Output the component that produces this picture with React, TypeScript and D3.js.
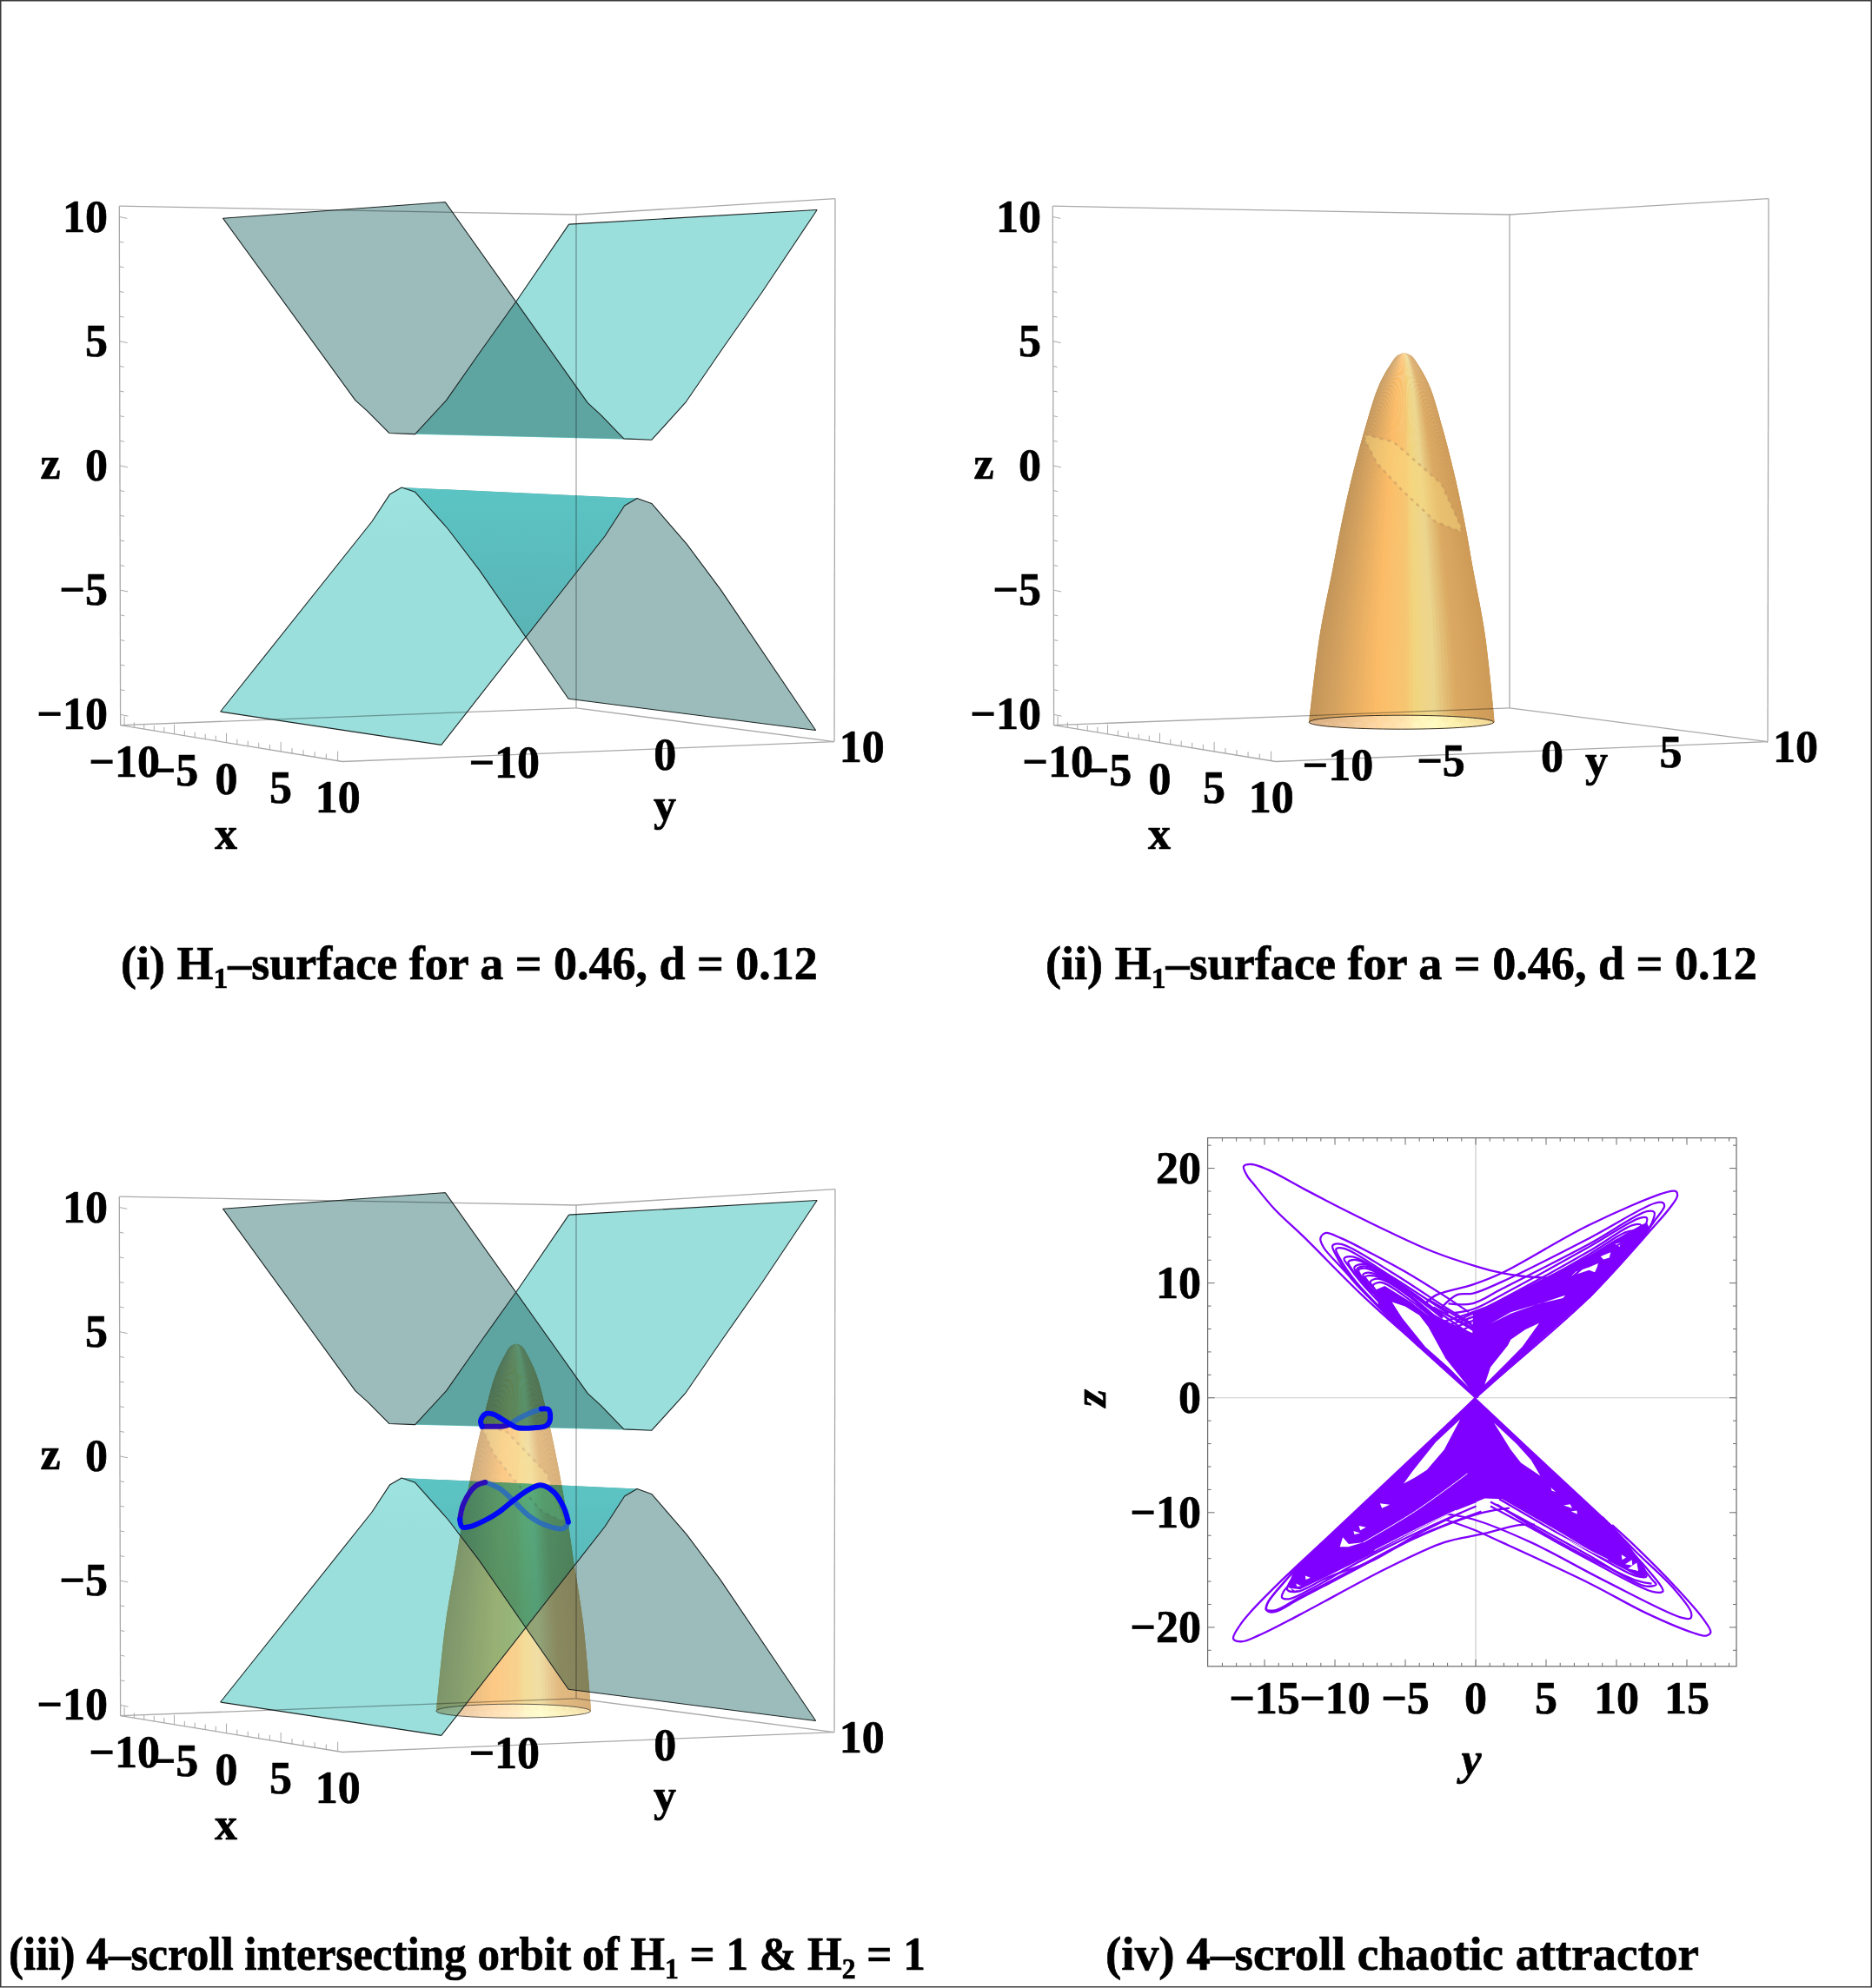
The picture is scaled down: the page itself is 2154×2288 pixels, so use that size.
import React, { useLayoutEffect, useRef, useState } from "react";
import * as d3 from "d3";

// ---- 3D surfaces: z as a function of y, swept along x
const sweepX = [-10, 10];
const upperY = [-10, -2.5, -1.8, -0.55, 0.95, 2.75, 4.75, 6.9, 10];
const upperZ = [10, 2.6, 2.15, 1.25, 1.2, 2.6, 4.65, 6.8, 10];
const lowerY = [-10, -1.5, -0.47, 0.2, 0.98, 2.9, 4.76, 10];
const lowerZ = [-10, -2.4, -1.27, -1.0, -1.2, -2.75, -4.5, -10];

// second surface, radius against height
const coneZ = [4.52, 4.4, 4.1, 3.24, 1.53, -0.52, -2.45, -4.05, -6.55, -10];
const coneR = [0, 0.33, 0.6, 1.16, 1.8, 2.43, 2.92, 3.27, 3.83, 4.3];
const coneShadeU = [-1, -0.73, -0.27, 0.05, 0.14, 0.35, 0.6, 0.97];
const coneShade = ["#c2955a", "#d5a25f", "#fcbc67", "#f7c672", "#f2d47e", "#ecd68e", "#dba962", "#cf9c59"];
const coneBaseShade = ["#dcb184", "#e6bb8c", "#ffd6a0", "#ffe6b0", "#fff4ba", "#fffbc0", "#fbeeaa", "#f4d998"];
// scar on the second surface, (position across the silhouette, z)
const scarU = [-0.97, -0.24, 0.38, 0.72, 0.94, 0.92, 0.53, -0.03, -0.55, -0.92];
const scarZ = [1.31, 1.02, 0.05, -0.63, -2.34, -2.51, -2.11, -0.86, 0.17, 1.08];

// ---- orbit in panel iii, [y, z]
const orbitUpperFront = [[-1.86, 1.25], [-1.94, 1.47], [-1.69, 1.74], [-1.28, 1.74], [-0.79, 1.55], [-0.3, 1.33], [0.11, 1.19], [1.1, 1.19], [1.68, 1.25], [1.92, 1.47], [1.84, 1.9], [1.43, 1.93]];
const orbitUpperBack = [[1.43, 1.93], [0.77, 1.76], [0.11, 1.53], [-0.3, 1.33]];
const orbitUpperDark = [[-0.3, 1.33], [-0.71, 1.25], [-1.36, 1.25], [-1.86, 1.25]];
const orbitLowerFront = [[-3.04, -2.4], [-2.92, -2.69], [-2.51, -2.69], [-1.69, -2.46], [-0.87, -2.12], [-0.05, -1.66], [0.77, -1.26], [1.43, -1.09], [2.17, -1.37], [2.74, -2.0], [2.99, -2.57]];
const orbitLowerBack = [[2.99, -2.57], [2.74, -2.82], [1.76, -2.69], [0.77, -2.29], [-0.05, -1.72], [-0.87, -1.2], [-1.66, -0.95]];
const orbitLowerDark = [[-1.66, -0.95], [-2.18, -1.09], [-2.84, -1.77], [-3.04, -2.4]];

// ---- attractor, panel iv, [y, z]
const wingUL = [[0, 0], [-4, 4.44], [-6.9, 7.9], [-7.04, 9.44], [-6.46, 9.74], [-4.61, 8.35], [-3.17, 6.96], [-2.14, 6.71], [0.12, 5.45], [0.2, 0]];
const holesUL = [
  [[-5.95, 8.35], [-5.02, 7.97], [-4, 7.2], [-3.38, 6.2], [-2.14, 3.43], [-0.5, 0.9], [-1.94, 2.67], [-3.58, 4.44], [-5.23, 6.96]],
];
const wingUR = [[0, 0], [1.87, 2.04], [8.04, 8.73], [12.37, 14.66], [12.16, 15.3], [11.75, 15.04], [10.62, 14.3], [8.05, 12.4], [3.93, 9.87], [1.87, 8.6], [-0.19, 7.34], [-0.3, 3]];
const holesUR = [
  [[0.64, 1.16], [1.05, 2.67], [2.28, 4.56], [2.49, 5.07], [3.52, 5.95], [4.51, 6.51], [3.31, 4.44], [2.08, 2.92]],
  [[1.05, 6.46], [2.49, 7.34], [4.55, 8.23], [6.2, 8.68], [6.36, 8.93], [4.96, 8.36], [2.49, 7.46]],
  [[7.12, 11.0], [8.05, 11.38], [8.7, 11.71], [8.62, 11.38], [8.46, 10.95], [8.05, 11.13], [6.81, 10.62]],
  [[8.87, 12.32], [9.59, 12.69], [9.49, 12.21], [9.08, 12.06]],
  [[9.9, 13.4], [10.31, 13.53], [10.21, 13.15]],
];
const wingLL = [[0, 0], [-10.47, -12.1], [-12.11, -13.99], [-13.04, -15.38], [-13.31, -16.52], [-12.73, -16.85], [-10.47, -15.51], [-7.18, -13.49], [-4.29, -11.6], [-1.41, -9.83], [0.03, -9.12], [0.5, -5]];
const holesLL = [
  [[-1.1, -1.87], [-2.24, -4.52], [-3.47, -6.29], [-4.29, -6.92], [-5.12, -7.48], [-4.5, -6.42], [-2.85, -3.89]],
  [[-6.8, -9.2], [-6.1, -9.32], [-6.66, -9.62]],
  [[-8.3, -11.14], [-7.79, -11.29], [-8.2, -11.54]],
  [[-8.68, -11.6], [-8.2, -11.8], [-8.62, -11.9]],
  [[-9.44, -12.15], [-9.03, -12.73], [-8, -12.6], [-9.03, -12.98], [-9.65, -12.98]],
  [[-13.14, -16.6], [-12.42, -16.7], [-13.04, -16.85]],
  [[-12.77, -16.19], [-12.4, -16.39], [-12.69, -16.44]],
  [[-12.11, -15.51], [-11.74, -15.68], [-12.07, -15.84]],
];
const wingLR = [[0, 0], [3.93, -4.52], [9.69, -11.09], [11.03, -13.11], [11.96, -14.88], [12.1, -15.43], [11.96, -15.69], [11.34, -15.43], [9.08, -14], [5.99, -11.72], [1.87, -8.82], [0.64, -8.77], [-0.19, -9.2], [-0.5, -5]];
const holesLR = [
  [[1.3, -2.18], [2.49, -4.52], [3.21, -5.66], [4.59, -6.8], [3.93, -5.41], [2.9, -4.02]],
  [[5.33, -7.81], [5.68, -8.19], [5.41, -8.11]],
  [[6.24, -9.37], [6.71, -9.27], [6.85, -9.62]],
  [[6.77, -9.9], [7.18, -9.83], [7.22, -10.13]],
  [[10.35, -13.66], [10.68, -13.92], [10.41, -14.12]],
  [[11.09, -14.12], [11.13, -14.62], [10.62, -14.5]],
  [[11.44, -14.37], [11.55, -15.08], [10.82, -14.88]],
];
const orbitLoops = [
  // big excursion, top left across to the right wing
  [[0, 0], [-4, 4.44], [-8.1, 8.98], [-12.22, 14.03], [-14.28, 16.43], [-15.82, 18.7], [-16.23, 19.34], [-16.48, 20.17], [-15.93, 20.35], [-14.8, 19.9], [-12.2, 18.2], [-9.14, 16.26], [-6.05, 14.4], [-2.96, 12.7], [0.12, 11.43], [1.87, 10.88], [3.31, 10.6], [6, 10.4]],
  // upper left nested loops
  [[-4, 4.44], [-6.9, 7.9], [-9.5, 11.3], [-10.8, 13.1], [-11.03, 13.9], [-10.68, 14.36], [-9.55, 13.9], [-8.1, 13.03], [-5.02, 11.0], [-2.35, 8.98], [-0.5, 7.47]],
  [[-6.88, 7.97], [-8.73, 10.24], [-9.96, 12.52], [-10.17, 13.27], [-9.55, 13.4], [-6.05, 11.0], [-1.94, 7.72], [-0.29, 6.46]],
  [[-6.88, 7.97], [-8.52, 10.12], [-9.65, 12.14], [-9.92, 12.97], [-9.35, 13.02], [-6.05, 10.62], [-1.94, 7.34]],
  [[-6.26, 7.6], [-8.1, 10.0], [-9.04, 11.5], [-9.35, 12.14], [-8.73, 12.3], [-5.64, 10.12], [-2.35, 7.22], [-0.29, 5.45]],
  [[-5.85, 7.2], [-7.29, 9.23], [-8.32, 10.62], [-8.62, 11.38], [-7.9, 11.63], [-5.23, 9.74], [-2.35, 6.96]],
  [[-5.85, 7.2], [-7.08, 8.98], [-8.0, 10.37], [-8.32, 11.13], [-7.7, 11.26], [-5.02, 9.24], [-2.55, 6.71]],
  [[-6.2, 8], [-6.88, 8.73], [-7.7, 10.0], [-8.0, 10.75], [-7.39, 10.88], [-4.82, 8.98], [-2.55, 6.46]],
  [[-6.57, 8.48], [-7.18, 9.49], [-7.49, 10.12], [-6.88, 10.37], [-4.61, 8.73], [-2.96, 6.71]],
  [[-6.4, 8.3], [-7.1, 9.3], [-7.3, 9.8], [-6.7, 10.05], [-4.7, 8.55], [-3, 6.9]],
  [[-6.6, 8.6], [-7.75, 10.3], [-7.85, 10.55], [-7.2, 10.62], [-4.7, 8.85], [-2.7, 6.6]],
  [[-6.9, 8.6], [-8.2, 10.6], [-8.45, 11.2], [-7.8, 11.45], [-5.1, 9.48], [-2.4, 7]],
  [[-7.3, 9.1], [-8.8, 11.2], [-9.05, 11.85], [-8.4, 12], [-5.4, 9.9], [-2.3, 7.1]],
  // upper right nested loops
  [[0, 0], [1.87, 2.04], [8.04, 8.73], [12.57, 14.8], [13.8, 16.56], [14.32, 17.57], [14.22, 18.0], [13.5, 17.9], [8.04, 15.05], [1.87, 10.88], [-0.19, 9.87], [-2.76, 8.98], [-3.6, 8.2]],
  [[8.04, 8.73], [11.6, 13.6], [12.78, 15.55], [13.4, 16.68], [13.3, 17.0], [12.68, 16.94], [8.05, 13.9], [1.87, 10.12], [-0.19, 9.1], [-1.32, 8.98], [-2.4, 7.9]],
  [[8.04, 8.73], [11.6, 13.6], [12.5, 15.2], [12.68, 16.18], [12.16, 16.25], [8.05, 13.4], [1.87, 9.5], [-0.19, 8.23], [-1.94, 8.2]],
  [[8.04, 8.73], [11.4, 13.6], [12.16, 15.67], [11.65, 15.67], [8.05, 13.15], [1.87, 8.98], [-0.19, 7.72], [-1.5, 7.4]],
  [[8.04, 8.73], [11.2, 13.6], [11.75, 15.04], [11.14, 15.04], [8.05, 12.77], [1.87, 8.6], [-0.19, 7.34], [-1.4, 6.7]],
  [[8.04, 8.73], [11, 13.4], [11.24, 14.54], [10.62, 14.41], [8.05, 12.5], [1.87, 8.2]],
  [[8.04, 8.73], [10.6, 13.2], [10.72, 13.9], [10.1, 13.8], [8.05, 12.2], [3.9, 9.5]],
  [[1.3, 7.3], [3.9, 8.5], [6.2, 9.9], [8.05, 11.75], [10.5, 13.6]],
  // crossings near the middle of the upper half
  [[-3.4, 8.6], [-1.5, 7.2], [0.3, 5.9], [1.2, 5.2]],
  [[-3, 7.9], [-1, 6.5], [0.6, 5.3]],
  [[-4, 7.9], [-1.8, 6.4], [0, 5.2]],
  [[-2.6, 7.6], [-0.4, 6.2], [1, 5.4]],
  [[2.6, 8.4], [0.8, 7.5], [-1, 6.7], [-2.6, 6.1]],
  [[2.2, 7.9], [0.4, 7], [-1.4, 6.2], [-3, 5.6]],
  [[1.6, 7.2], [0, 6.4], [-1.6, 5.6]],
  [[3, 8.9], [1, 8], [-0.8, 7.2], [-2.4, 6.6]],
  // lower left bands
  [[0, 0], [-9.85, -11.85], [-12.11, -14.12], [-13.76, -16.27], [-14.79, -17.9], [-14.83, -18.54], [-14.28, -18.66], [-12.53, -17.53], [-8.41, -14.88], [-4.29, -12.23], [0.44, -10.03], [2.4, -9.6]],
  [[0, 0], [-9.85, -11.85], [-12.11, -14.12], [-13.76, -16.27], [-14.79, -17.9], [-14.9, -18.44], [-14.2, -18.5], [-12.4, -17.3], [-8.3, -14.7], [-4.2, -12.1], [0.4, -9.9]],
  [[-11.5, -13.87], [-12.94, -15.9], [-13.66, -16.9], [-13.76, -17.4], [-13.25, -17.53], [-11.5, -16.52], [-8.41, -14.37], [-3.47, -11.34], [0.03, -9.45]],
  [[-12.11, -14.12], [-13.39, -16.7], [-12.73, -16.9], [-10.47, -15.63], [-7.18, -14.1], [-4.29, -12], [-1, -10]],
  // outermost lower left, crossing to the right wing
  [[0, 0], [-10.47, -12.1], [-13.55, -15.63], [-16.02, -18.7], [-16.74, -19.8], [-17.22, -20.99], [-16.64, -21.24], [-15.41, -20.7], [-12.53, -18.92], [-6.35, -14.88], [-2.24, -12.6], [0.34, -11.9], [3.1, -11.09], [4.2, -11.05]],
  // lower right outer loops
  [[-2.3, -10.1], [-0.19, -10.58], [3.93, -12.6], [9.08, -15.89], [14.53, -19.12], [15.25, -19.22], [15.29, -18.66], [14.0, -16.52], [11.34, -13.36], [9.0, -10.4]],
  [[-2.2, -10.6], [-0.19, -11.47], [1.87, -12.6], [8.05, -16.14], [12.16, -18.79], [15.46, -20.48], [16.38, -20.73], [16.69, -20.43], [16.18, -19.3], [14.22, -16.52], [11.55, -13.2], [9.69, -11.09]],
  // lower right bands
  [[10.5, -12.4], [11.34, -13.74], [12.16, -14.88], [13.15, -16.39], [13.3, -16.85], [12.57, -16.9], [8.05, -14.12], [3.93, -11.34], [1.05, -9.45]],
  [[10.5, -12.4], [11.75, -14.62], [12.57, -15.89], [12.82, -16.27], [11.96, -16.39], [8.05, -13.74], [3.93, -10.96], [1.05, -9.07]],
  [[10.5, -12.4], [11.55, -14.2], [11.96, -14.88], [12.12, -15.58], [11.34, -15.51], [8.05, -13.36], [4.14, -10.58], [1.67, -8.82]],
  [[1.5, -9.3], [4, -11.2], [8.05, -13.95], [11.5, -15.95], [12.5, -16.2]],
];
// white slivers left inside the dense parts
const sliversFlat = [
  [[-8, -12.6], [-4.29, -9.88], [-0.59, -6.6]],
  [[2.9, -9.95], [6.2, -12.16], [9.4, -14.1]],
  [[-7.2, -13.3], [-4.29, -11.5], [-1.4, -9.8]],
];

const xTicks3D = [-10, -5, 0, 5, 10];
const zTicks3D = [-10, -5, 0, 5, 10];
const yTicksFlat = [-15, -10, -5, 0, 5, 10, 15];
const zTicksFlat = [-20, -10, 0, 10, 20];

// ---- layout
const FONT = "'Liberation Serif', serif";
const FS = 52;
const minus = (v: number) => (v < 0 ? `\u2212${-v}` : `${v}`);

// screen corners of the plot box in panel i: [x,y] for (xmin,ymin), (xmax,ymin), (xmax,ymax), (xmin,ymax)
const boxBottom = [[138.6, 834.7], [394, 876.5], [960, 853.6], [663, 814.8]];
const boxTop = [[137.3, 237.2], [393.5, 216], [961, 228.6], [663, 247]];

function quad(c: number[][]) {
  const [x0, y0] = c[0], [x1, y1] = c[1], [x2, y2] = c[2], [x3, y3] = c[3];
  const dx1 = x1 - x2, dx2 = x3 - x2, sx = x0 - x1 + x2 - x3;
  const dy1 = y1 - y2, dy2 = y3 - y2, sy = y0 - y1 + y2 - y3;
  const den = dx1 * dy2 - dx2 * dy1;
  const g = (sx * dy2 - dx2 * sy) / den, h = (dx1 * sy - sx * dy1) / den;
  const a = x1 - x0 + g * x1, b = x3 - x0 + h * x3;
  const d = y1 - y0 + g * y1, e = y3 - y0 + h * y3;
  return (s: number, t: number) => {
    const w = g * s + h * t + 1;
    return [(a * s + b * t + x0) / w, (d * s + e * t + y0) / w];
  };
}
const bottomPlane = quad(boxBottom);
const topPlane = quad(boxTop);

const xDom = [-10.4, 10.4];
const zDom = [-10.43, 10.43];

function projector(yDom: number[], dy: number, dx: number) {
  const sx = d3.scaleLinear().domain(xDom).range([0, 1]);
  const sy = d3.scaleLinear().domain(yDom).range([0, 1]);
  const sz = d3.scaleLinear().domain(zDom).range([0, 1]);
  return (x: number, y: number, z: number): [number, number] => {
    const b = bottomPlane(sx(x), sy(y));
    const t = topPlane(sx(x), sy(y));
    const w = sz(z);
    return [b[0] + (t[0] - b[0]) * w + dx, b[1] + (t[1] - b[1]) * w + dy];
  };
}

const lineOf = d3.line<[number, number]>();
const smooth = d3.line<[number, number]>().curve(d3.curveCatmullRom.alpha(0.5));
const ringOf = d3.line<[number, number]>().curve(d3.curveLinearClosed);

type P = (x: number, y: number, z: number) => [number, number];
const SHEET_GRAY = "#9bbcbb";
const SHEET_TEAL = "#9adfdc";
const EDGE = "#1c2424";

function Sheets({ p, id }: { p: P; id: string }) {
  const edge = (x: number, ys: number[], zs: number[]) => ys.map((y, i) => p(x, y, zs[i]));
  const band = (ys: number[], zs: number[], a: number, b: number) => {
    const yy = ys.slice(a, b), zz = zs.slice(a, b);
    return ringOf([...edge(sweepX[0], yy, zz), ...edge(sweepX[1], yy, zz).reverse()]) as string;
  };
  const upBack = band(upperY, upperZ, 0, 4);
  const upFlat = band(upperY, upperZ, 3, 5);
  const upFront = band(upperY, upperZ, 4, upperY.length);
  const loFront = band(lowerY, lowerZ, 0, 4);
  const loBack = band(lowerY, lowerZ, 3, lowerY.length);
  const mult = { mixBlendMode: "multiply" } as React.CSSProperties;
  return (
    <g>
      <clipPath id={`${id}-lo`}><path d={loFront} /></clipPath>
      <path d={upBack} fill={SHEET_GRAY} style={mult} />
      <path d={upFlat} fill={SHEET_TEAL} style={mult} />
      <path d={upFront} fill={SHEET_TEAL} style={mult} />
      <path d={loFront} fill={`url(#${id}-tealgrad)`} style={mult} />
      <path d={loBack} fill={SHEET_GRAY} style={mult} />
      <path d={loBack} fill={`url(#${id}-overgrad)`} clipPath={`url(#${id}-lo)`} />
    </g>
  );
}

function SheetEdges({ p }: { p: P }) {
  const rows: [number[], number[]][] = [[upperY, upperZ], [lowerY, lowerZ]];
  return (
    <g fill="none" stroke={EDGE} strokeWidth={1.1} strokeLinejoin="round">
      {rows.map(([ys, zs], r) => (
        <g key={r}>
          {sweepX.map((x) => (
            <path key={x} d={lineOf(ys.map((y, i) => p(x, y, zs[i]))) as string} />
          ))}
          <path d={lineOf([p(sweepX[0], ys[0], zs[0]), p(sweepX[1], ys[0], zs[0])]) as string} />
          <path d={lineOf([p(sweepX[0], ys[ys.length - 1], zs[zs.length - 1]), p(sweepX[1], ys[ys.length - 1], zs[zs.length - 1])]) as string} />
        </g>
      ))}
    </g>
  );
}

function Box({ p, yDom }: { p: P; yDom: number[] }) {
  const [x0, x1] = xDom, [y0, y1] = yDom, [z0, z1] = zDom;
  const segs: [number, number, number][][] = [
    [[x0, y0, z0], [x0, y0, z1]],
    [[x0, y1, z0], [x0, y1, z1]],
    [[x1, y1, z0], [x1, y1, z1]],
    [[x0, y0, z1], [x0, y1, z1]],
    [[x0, y1, z1], [x1, y1, z1]],
    [[x0, y0, z0], [x1, y0, z0]],
    [[x1, y0, z0], [x1, y1, z0]],
    [[x0, y0, z0], [x0, y1, z0]],
    [[x0, y1, z0], [x1, y1, z0]],
  ];
  const zMinor = d3.range(-10, 11);
  const xMinor = d3.range(-10, 11);
  const style = { mixBlendMode: "multiply" } as React.CSSProperties;
  return (
    <g stroke="#a9a9a9" strokeWidth={1.3} fill="none" style={style}>
      {segs.map((s, i) => (
        <path key={i} d={lineOf(s.map((q) => p(q[0], q[1], q[2]))) as string} />
      ))}
      {zMinor.map((z) => {
        const a = p(x0, y0, z);
        const len = z % 5 === 0 ? 9 : 5;
        return <line key={z} x1={a[0]} y1={a[1]} x2={a[0] + len} y2={a[1] + 0.2 * len} strokeWidth={1} />;
      })}
      {xMinor.map((x) => {
        const a = p(x, y0, z0);
        const len = x % 5 === 0 ? 11 : 6;
        return <line key={x} x1={a[0]} y1={a[1]} x2={a[0]} y2={a[1] - len} strokeWidth={1} />;
      })}
    </g>
  );
}

function Cone({ p, id, cy, opacity }: { p: P; id: string; cy: number; opacity: number }) {
  const pt = (u: number, i: number) => {
    const c = p(0, cy, coneZ[i]);
    const e = p(0, cy + coneR[i], coneZ[i]);
    return [c[0] + u * (e[0] - c[0]), c[1]] as [number, number];
  };
  const radiusAt = d3.scaleLinear().domain(coneZ).range(coneR);
  const scarPts = scarU.map((u, i) => {
    const z = scarZ[i];
    const c = p(0, cy, z);
    const e = p(0, cy + radiusAt(z), z);
    return [c[0] + u * (e[0] - c[0]), c[1]] as [number, number];
  });
  const shade = d3.scaleLinear<string>().domain(coneShadeU).range(coneShade);
  const baseShade = d3.scaleLinear<string>().domain(coneShadeU).range(coneBaseShade);
  const us = d3.range(0, 73).map((i) => Math.sin((-90 + (i * 180) / 72) * (Math.PI / 180)));
  const base = p(0, cy, -10);
  const rx = p(0, cy + 4.3, -10)[0] - base[0];
  return (
    <g style={{ mixBlendMode: "multiply" }} opacity={opacity}>
      {us.slice(0, -1).map((u, k) => {
        const u2 = us[k + 1];
        const left = smooth(coneZ.map((_, i) => pt(u, i))) as string;
        const right = smooth(coneZ.map((_, i) => pt(u2 + 0.01, i)).reverse()) as string;
        return <path key={k} d={`${left}L${right.slice(1)}Z`} fill={shade((u + u2) / 2)} />;
      })}
      <path d={ringOf(scarPts) as string} fill="#f7d77e" fillOpacity={0.5} stroke="#c0925c" strokeOpacity={0.5} strokeWidth={2.5} strokeDasharray="4 5" />
      <clipPath id={`${id}-base`}><ellipse cx={base[0]} cy={base[1]} rx={rx} ry={8} /></clipPath>
      <g clipPath={`url(#${id}-base)`}>
        {d3.range(-1, 1, 0.02).map((u) => (
          <rect key={u} x={base[0] + u * rx} y={base[1] - 9} width={rx * 0.022} height={18} fill={baseShade(u)} />
        ))}
      </g>
      <ellipse cx={base[0]} cy={base[1]} rx={rx} ry={8} fill="none" stroke="#3a3020" strokeWidth={1} />
    </g>
  );
}

function Orbit({ p, cy }: { p: P; cy: number }) {
  const onPlane = (pts: number[][]) => smooth(pts.map(([y, z]) => p(0, cy + y, z))) as string;
  const cap = { fill: "none", strokeWidth: 6, strokeLinecap: "round", strokeLinejoin: "round" } as const;
  return (
    <g>
      {[orbitUpperBack, orbitLowerBack].map((o, i) => <path key={i} d={onPlane(o)} stroke="#2566c8" strokeOpacity={0.8} {...cap} />)}
      {[orbitUpperDark, orbitLowerDark].map((o, i) => <path key={i} d={onPlane(o)} stroke="#2a0db8" {...cap} />)}
      {[orbitUpperFront, orbitLowerFront].map((o, i) => <path key={i} d={onPlane(o)} stroke="#0008f5" {...cap} />)}
    </g>
  );
}

const labelStyle = { fontFamily: FONT, fontSize: FS, fontWeight: 700, fill: "#000", stroke: "#000", strokeWidth: 0.7 } as const;

function AxisText({ p, yDom, yTicks, yShift, yLabel, dy, dx }: { p: P; yDom: number[]; yTicks: number[]; yShift: number[]; yLabel: number[]; dy: number; dx: number }) {
  const mid = 17;
  return (
    <g {...labelStyle}>
      {zTicks3D.map((z) => {
        const a = p(xDom[0], yDom[0], z);
        return <text key={z} x={124 + dx} y={a[1] + mid} textAnchor="end">{minus(z)}</text>;
      })}
      {xTicks3D.map((x) => {
        const a = p(x, yDom[0], zDom[0]);
        return <text key={x} x={a[0]} y={a[1] + 42 + mid} textAnchor="middle">{minus(x)}</text>;
      })}
      {yTicks.map((y, i) => {
        const a = p(xDom[1], y, zDom[0]);
        return <text key={y} x={a[0] + 41 + yShift[i]} y={a[1] + 6 + mid} textAnchor="middle">{minus(y)}</text>;
      })}
      <text x={260 + dx} y={963 + dy + 14} textAnchor="middle">x</text>
      <text x={yLabel[0] + dx} y={yLabel[1] + dy + 10} textAnchor="middle">y</text>
      <text x={58 + dx} y={537 + dy + 14} textAnchor="middle">z</text>
    </g>
  );
}

// titles are squeezed sideways to the width they have in the figure
function Title({ x0, x1, y, parts }: { x0: number; x1: number; y: number; parts: string[] }) {
  const ref = useRef<SVGTextElement>(null);
  const [sx, setSx] = useState(1);
  useLayoutEffect(() => {
    if (ref.current) setSx((x1 - x0) / ref.current.getComputedTextLength());
  }, [x0, x1]);
  return (
    <text ref={ref} transform={`translate(${x0},${y}) scale(${sx},1)`} {...labelStyle} fontSize={55}>
      {parts.map((t, i) =>
        i % 2 === 0
          ? <tspan key={i} dy={i === 0 ? 0 : -10}>{t}</tspan>
          : <tspan key={i} dy={10} fontSize={34}>{t}</tspan>
      )}
    </text>
  );
}

function Panel3D({ id, dx, dy, yDom, yTicks, yShift, yLabel, cy = 0, coneOpacity = 1, sheets, cone, orbit }: any) {
  const p = projector(yDom, dy, dx);
  const topG = p(0, -10, 0);
  return (
    <g>
      <defs>
        <linearGradient id={`${id}-tealgrad`} gradientUnits="userSpaceOnUse" x1={0} x2={0} y1={topG[1] - 30} y2={topG[1] + 300}>
          <stop offset="0" stopColor="#9fe6e3" />
          <stop offset="0.35" stopColor="#9adfdc" />
        </linearGradient>
        <linearGradient id={`${id}-overgrad`} gradientUnits="userSpaceOnUse" x1={0} x2={0} y1={topG[1] + 20} y2={topG[1] + 200}>
          <stop offset="0" stopColor="#5cc4c4" />
          <stop offset="1" stopColor="#5ab3b5" />
        </linearGradient>
      </defs>
      {sheets && <Sheets p={p} id={id} />}
      <Box p={p} yDom={yDom} />
      {cone && <Cone p={p} id={id} cy={cy} opacity={coneOpacity} />}
      {sheets && <SheetEdges p={p} />}
      {orbit && <Orbit p={p} cy={cy} />}
      <AxisText p={p} yDom={yDom} yTicks={yTicks} yShift={yShift} yLabel={yLabel} dx={dx} dy={dy} />
    </g>
  );
}

function FlatPanel() {
  const left = 1389.6, right = 1998, top = 1309.6, bottom = 1917.8;
  const xS = d3.scaleLinear().domain([-19.04, 18.52]).range([left, right]);
  const yS = d3.scaleLinear().domain([-23.4, 22.65]).range([bottom, top]);
  const toPx = (pts: number[][]) => pts.map(([a, b]) => [xS(a), yS(b)] as [number, number]);
  const wings: [number[][], number[][][]][] = [
    [wingUL, holesUL], [wingUR, holesUR], [wingLL, holesLL], [wingLR, holesLR],
  ];
  const xMinor = d3.range(-18, 19);
  const zMinor = d3.range(-22, 23, 2);
  return (
    <g>
      <line x1={xS(0)} x2={xS(0)} y1={top} y2={bottom} stroke="#cbcbcb" strokeWidth={1.2} />
      <line x1={left} x2={right} y1={yS(0)} y2={yS(0)} stroke="#cbcbcb" strokeWidth={1.2} />
      <g stroke="#6a6a6a" strokeWidth={1}>
        {xMinor.map((v) => {
          const len = v % 5 === 0 ? 8 : 4;
          return (
            <g key={v}>
              <line x1={xS(v)} x2={xS(v)} y1={bottom} y2={bottom - len} />
              <line x1={xS(v)} x2={xS(v)} y1={top} y2={top + len} />
            </g>
          );
        })}
        {zMinor.map((v) => {
          const len = v % 10 === 0 ? 8 : 4;
          return (
            <g key={v}>
              <line x1={left} x2={left + len} y1={yS(v)} y2={yS(v)} />
              <line x1={right} x2={right - len} y1={yS(v)} y2={yS(v)} />
            </g>
          );
        })}
      </g>
      <rect x={left} y={top} width={right - left} height={bottom - top} fill="none" stroke="#6a6a6a" strokeWidth={1.2} />
      <g fill="#8000ff" fillRule="evenodd">
        {wings.map(([body, holes], i) => (
          <path key={i} d={[ringOf(toPx(body)), ...holes.map((h) => ringOf(toPx(h)))].join("")} />
        ))}
      </g>
      <g fill="none" stroke="#8000ff" strokeWidth={2.3} strokeLinejoin="round">
        {orbitLoops.map((loop, i) => <path key={i} d={smooth(toPx(loop)) as string} />)}
      </g>
      <g fill="none" stroke="#fff" strokeWidth={1}>
        {sliversFlat.map((s, i) => <path key={i} d={smooth(toPx(s)) as string} />)}
      </g>
      <g {...labelStyle}>
        {yTicksFlat.map((v) => <text key={v} x={xS(v)} y={1972} textAnchor="middle">{minus(v)}</text>)}
        {zTicksFlat.map((v) => <text key={v} x={1382} y={yS(v) + 17} textAnchor="end">{minus(v)}</text>)}
        <text x={1693} y={2042} textAnchor="middle" fontStyle="italic">y</text>
        <text transform="translate(1272,1609) rotate(-90)" textAnchor="middle" fontStyle="italic">z</text>
      </g>
    </g>
  );
}

const App = () => {
  const yDomWide = [-15.38, 10.72];
  const yDomTight = [-11.03, 10.87];
  const shiftWide = [26, -7, 6];
  const shiftTight = [3, -10, -12, -4, 13];
  return (
    <svg width={2154} height={2288} viewBox="0 0 2154 2288" style={{ position: "absolute", left: 0, top: 0, display: "block" }}>
      <rect x={0} y={0} width={2154} height={2288} fill="#fff" />
      <Panel3D id="p1" dx={0} dy={0} yDom={yDomWide} yTicks={[-10, 0, 10]} yShift={shiftWide} yLabel={[765, 934]} sheets />
      <Panel3D id="p2" dx={1074} dy={0} yDom={yDomTight} yTicks={[-10, -5, 0, 5, 10]} yShift={shiftTight} yLabel={[763, 883]} cone />
      <Panel3D id="p3" dx={0} dy={1140} yDom={yDomWide} yTicks={[-10, 0, 10]} yShift={shiftWide} yLabel={[765, 934]} cy={0.28} coneOpacity={0.8} sheets cone orbit />
      <FlatPanel />
      <Title x0={139} x1={941} y={1127} parts={["(i) H", "1", "\u2013surface for a = 0.46, d = 0.12"]} />
      <Title x0={1203} x1={2022} y={1127} parts={["(ii) H", "1", "\u2013surface for a = 0.46, d = 0.12"]} />
      <Title x0={10} x1={1065} y={2267} parts={["(iii) 4\u2013scroll intersecting orbit of H", "1", " = 1 & H", "2", " = 1"]} />
      <Title x0={1272} x1={1955} y={2267} parts={["(iv) 4\u2013scroll chaotic attractor"]} />
      <rect x={0.75} y={0.75} width={2152.5} height={2286} fill="none" stroke="#3a3a3a" strokeWidth={1.5} />
    </svg>
  );
};

export default App;
